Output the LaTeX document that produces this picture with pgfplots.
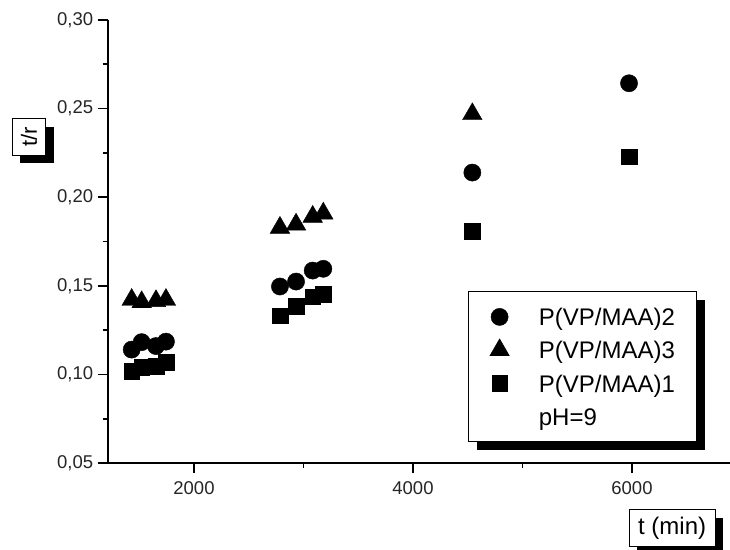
\documentclass[border=0pt]{standalone}
\usepackage{pgfplots}
\pgfplotsset{compat=1.18}
\usepackage{fontspec}
\setmainfont{Liberation Sans}
\usetikzlibrary{shadows,calc}

\tikzset{boxshadow/.style={drop shadow={shadow xshift=8pt, shadow yshift=-8pt, opacity=1, fill=black}}}

\begin{document}
\begin{tikzpicture}
\begin{axis}[
  name=ax,
  scale only axis,
  width=622.3pt, height=443pt,
  xmin=1212, xmax=6895,
  ymin=0.05, ymax=0.30,
  axis lines=left,
  axis line style={-, line width=1.8pt, black},
  xtick={2000,4000,6000},
  minor xtick={3000,5000},
  ytick={0.05,0.10,0.15,0.20,0.25,0.30},
  minor ytick={0.075,0.125,0.175,0.225,0.275},
  tick align=outside,
  major tick length=10pt,
  minor tick length=5pt,
  every tick/.style={black, line width=1.6pt},
  scaled y ticks=false,
  /pgf/number format/assume math mode=true,
  /pgf/number format/1000 sep={},
  yticklabel style={/pgf/number format/fixed, /pgf/number format/fixed zerofill,
    /pgf/number format/precision=2, /pgf/number format/use comma, xshift=-1pt},
  xticklabel style={yshift=-5pt},
  tick label style={font=\fontsize{18.5}{22}\selectfont, text=black!85},
  xlabel={t (min)},
  xlabel style={at={(axis description cs:0.907,-0.1467)}, anchor=center,
    draw=black, fill=white, line width=1pt, inner xsep=9pt, inner ysep=7pt,
    font=\fontsize{24}{28}\selectfont, boxshadow},
  ylabel={\rotatebox{90}{t/r}},
  ylabel style={rotate=-90, at={(axis description cs:-0.1265,0.736)}, anchor=center,
    draw=black, fill=white, line width=1pt, inner xsep=8.5pt, inner ysep=8.5pt,
    font=\fontsize{22}{26}\selectfont, boxshadow},
  legend style={at={(0.5795,0.388)}, anchor=north west, draw=black, line width=1pt,
    fill=white, font=\fontsize{24}{28}\selectfont, boxshadow,
    inner xsep=21pt, inner ysep=11pt, row sep=4.6pt, column sep=28.5pt,
    nodes={inner sep=1pt, text height=22pt, text depth=4.6pt}},
  legend cell align=left,
  legend image code/.code={\draw[#1, only marks] plot coordinates {(0pt,0pt)};},
]
% P(VP/MAA)2
\addplot[only marks, mark=*, mark size=8.6pt,
  mark options={fill=black, draw=black, line width=0.4pt}] coordinates {
  (1431,0.1140) (1522,0.1182) (1653,0.1160) (1744,0.1185)
  (2785,0.1496) (2932,0.1524) (3084,0.1586) (3181,0.1596)
  (4542,0.2139)
  (5973,0.2643)
};
\addlegendentry{P(VP/MAA)2}
% P(VP/MAA)3
\addplot[only marks, mark=triangle*, mark size=11.3pt,
  mark options={fill=black, draw=black, line width=0.4pt}] coordinates {
  (1431,0.1421) (1522,0.1408) (1653,0.1414) (1744,0.1421)
  (2785,0.1828) (2932,0.1846) (3084,0.1890) (3181,0.1908)
  (4542,0.2469)
};
\addlegendentry{P(VP/MAA)3}
% P(VP/MAA)1
\addplot[only marks, mark=square*, mark size=7.9pt,
  mark options={fill=black, draw=black, line width=0.4pt}] coordinates {
  (1431,0.1016) (1522,0.1041) (1653,0.1045) (1744,0.1067)
  (2785,0.1331) (2932,0.1387) (3084,0.1439) (3181,0.1453)
  (4542,0.1806)
  (5973,0.2229)
};
\addlegendentry{P(VP/MAA)1}
\addlegendimage{empty legend}
\addlegendentry{pH=9}
\end{axis}
\pgfresetboundingbox
\path[use as bounding box] ($(ax.south west)+(-107.7pt,-86pt)$) rectangle ($(ax.south west)+(622.3pt,463pt)$);
\end{tikzpicture}
\end{document}
